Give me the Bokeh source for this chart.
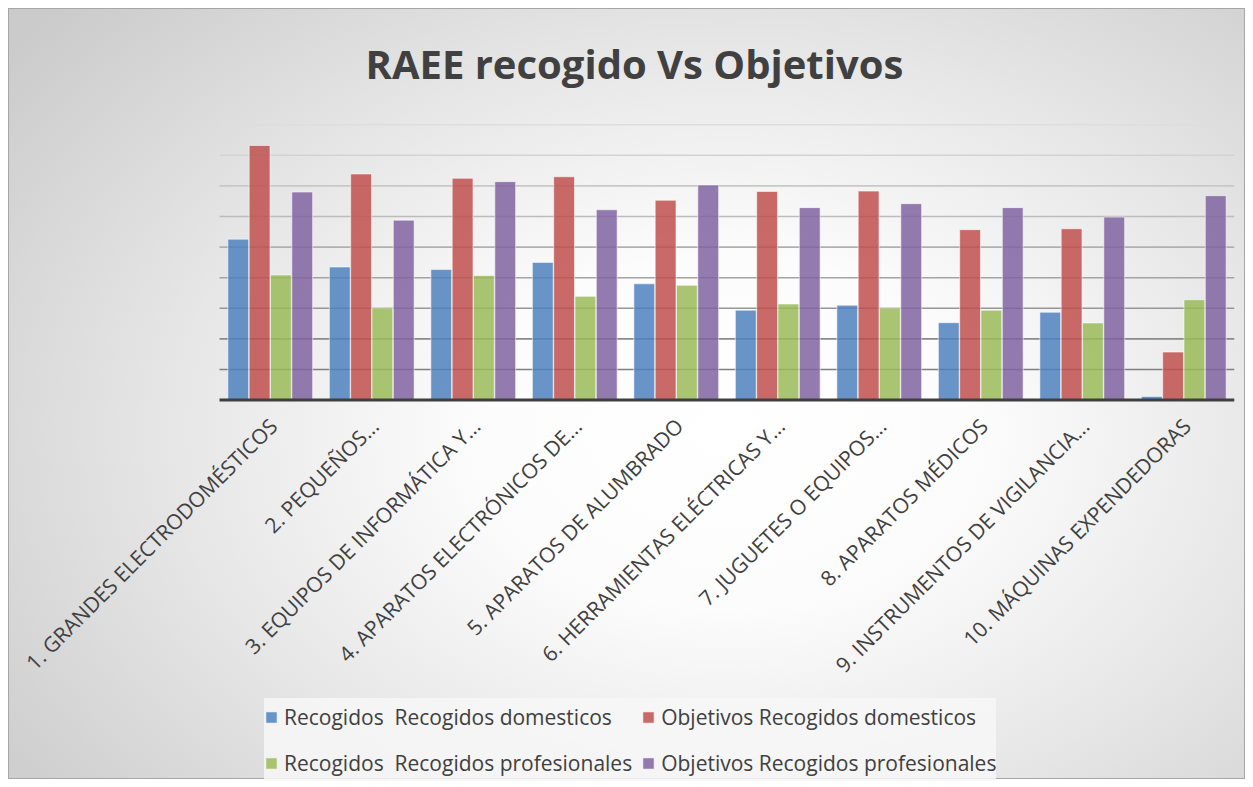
from bokeh.plotting import figure
from bokeh.models import (Legend, LegendItem, Title, ColumnDataSource, Range1d)
from bokeh.transform import dodge
from bokeh.embed import file_html
from bokeh.resources import INLINE
from bokeh.core.properties import value
import math

# ---------------- data ----------------
categories = [
    "1. GRANDES ELECTRODOMÉSTICOS",
    "2. PEQUEÑOS...",
    "3. EQUIPOS DE INFORMÁTICA Y...",
    "4. APARATOS ELECTRÓNICOS DE...",
    "5. APARATOS DE ALUMBRADO",
    "6. HERRAMIENTAS ELÉCTRICAS Y...",
    "7. JUGUETES O EQUIPOS...",
    "8. APARATOS MÉDICOS",
    "9. INSTRUMENTOS DE VIGILANCIA...",
    "10. MÁQUINAS EXPENDEDORAS",
]
recogidos_domesticos = [5.26, 4.35, 4.27, 4.50, 3.80, 2.94, 3.10, 2.53, 2.87, 0.12]
objetivos_domesticos = [8.32, 7.39, 7.25, 7.30, 6.53, 6.82, 6.83, 5.57, 5.60, 1.57]
recogidos_profesionales = [4.09, 3.01, 4.07, 3.39, 3.75, 3.14, 3.01, 2.94, 2.52, 3.28]
objetivos_profesionales = [6.80, 5.88, 7.14, 6.22, 7.03, 6.29, 6.42, 6.29, 5.98, 6.68]

series_names = [
    "Recogidos  Recogidos domesticos",
    "Objetivos Recogidos domesticos",
    "Recogidos  Recogidos profesionales",
    "Objetivos Recogidos profesionales",
]
series_keys = ["rd", "od", "rp", "op"]
series_colors = ["#4F81BD", "#C0504D", "#9BBB59", "#8064A2"]
offsets = [-0.315, -0.105, 0.105, 0.315]
grid_ticks = [1, 2, 3, 4, 5, 6, 7, 8, 9]
grid_colors = ["#7f7f7f", "#8a8a8a", "#969696", "#a3a3a3", "#b0b0b0",
               "#bcbcbc", "#c8c8c8", "#d3d3d3", "#dedede"]
title_text = "RAEE recogido Vs Objetivos"

n = len(categories)
source = ColumnDataSource(dict(cat=categories, xc=[i + 0.5 for i in range(n)],
                               base=[0] * n,
                               rd=recogidos_domesticos, od=objetivos_domesticos,
                               rp=recogidos_profesionales, op=objetivos_profesionales))
grid_src = ColumnDataSource(dict(y=grid_ticks, color=grid_colors,
                                 x0=[0] * len(grid_ticks), x1=[n] * len(grid_ticks)))

TEXT = "#404040"
FONT = "Open Sans"

# plot area: values 0..9.04 occupy 277 px; the area below the baseline (388 px)
# holds the category labels and the legend; area left of the first category
# (210 px) holds the overhang of the rotated labels
Y_TOP = 9.04
Y_BOTTOM = -Y_TOP * 388 / 277
CAT_PX = 1015 / n
X_LEFT = -210 / CAT_PX

p = figure(x_range=Range1d(X_LEFT, n), y_range=Range1d(Y_BOTTOM, Y_TOP),
           width=1253, height=787, output_backend="svg", toolbar_location=None,
           title=None, min_border_left=9, min_border_right=19,
           min_border_top=122, min_border_bottom=0)
p.styles = {"background": "radial-gradient(ellipse 72% 80% at 58% 55%, #ffffff 0%, #fcfcfc 28%, #e6e6e6 62%, #cbcbcb 100%)",
            "box-shadow": "inset 0 0 0 8px #ffffff, inset 0 0 0 9px #a6a6a6"}
p.background_fill_color = None
p.border_fill_color = None
p.outline_line_color = None
p.xaxis.visible = False
p.yaxis.visible = False
p.xgrid.visible = False
p.ygrid.visible = False

# horizontal gridlines (lighter toward the top), spanning the category area
p.segment(x0="x0", x1="x1", y0="y", y1="y", source=grid_src,
          line_color="color", line_width=1.6)

renderers = []
for key, col, off in zip(series_keys, series_colors, offsets):
    r = p.vbar(x=dodge("xc", off), top=key, bottom=0, width=0.205,
               source=source, fill_color=col, fill_alpha=0.85,
               line_color="white", line_alpha=0.55, line_width=1)
    renderers.append(r)

# category axis line at 0
p.segment(x0=0, x1=n, y0=0, y1=0, line_color="#3f3f3f", line_width=3)

# rotated category labels
p.text(x="xc", y="base", text="cat", source=source, angle=math.pi / 4,
       text_align="right", text_baseline="middle", x_offset=3, y_offset=22,
       text_font=value(FONT), text_font_size="21px", text_color=TEXT)

legend = Legend(items=[LegendItem(label=nm, renderers=[r]) for nm, r in zip(series_names, renderers)],
                orientation="horizontal", ncols=2, location=(255, 6))
legend.label_text_font = FONT
legend.label_text_font_size = "21px"
legend.label_text_color = TEXT
legend.label_height = 37
legend.glyph_width = 14
legend.glyph_height = 14
legend.label_standoff = 6
legend.spacing = 9
legend.padding = 6
legend.margin = 0
legend.background_fill_color = "#f7f7f7"
legend.background_fill_alpha = 0.85
legend.border_line_color = None
p.add_layout(legend)

title = Title(text=title_text, align="left", offset=356, standoff=66,
              text_font=FONT, text_font_style="bold", text_font_size="40px",
              text_color=TEXT, vertical_align="bottom")
p.add_layout(title, "above")

open("out.html", "w").write(file_html(p, INLINE))
